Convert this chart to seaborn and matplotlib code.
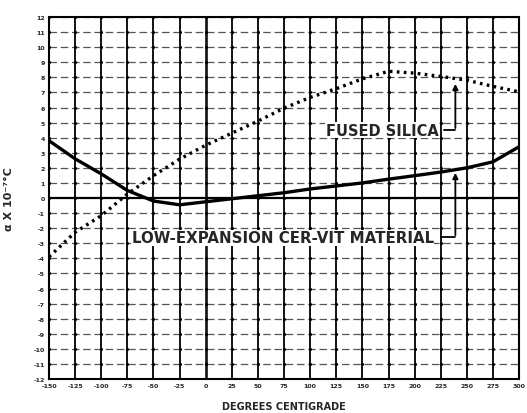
import numpy as np
import pandas as pd
import matplotlib
matplotlib.use("Agg")
import matplotlib.pyplot as plt
import seaborn as sns

temps = [-150, -125, -100, -75, -50, -25, 0, 25, 50, 75, 100, 125, 150, 175, 200, 225, 250, 275, 300]
cervit = [3.8, 2.6, 1.6, 0.5, -0.2, -0.45, -0.25, -0.05, 0.15, 0.35, 0.6, 0.8, 1.0, 1.25, 1.48, 1.72, 2.0, 2.4, 3.4]
silica = [-3.9, -2.27, -1.17, 0.26, 1.48, 2.58, 3.5, 4.3, 5.1, 5.96, 6.67, 7.25, 7.9, 8.4, 8.28, 8.06, 7.81, 7.4, 7.04]
xtick_labels = ["-150", "-125", "-100", "-75", "-50", "-25", "0", "25", "50", "75", "100",
                "125", "150", "175", "200", "225", "250", "275", "300"]
yticks = list(range(-12, 13))
ytick_labels = [str(abs(v)) if v >= 0 else "-" + str(abs(v)) for v in yticks]

sns.set_style("white")
plt.rcParams['font.family'] = ['DejaVu Sans']

fig = plt.figure(figsize=(5.27, 4.14), dpi=100)
ax = fig.add_axes([0.093, 0.0821, 0.892, 0.8744])

df = pd.DataFrame({"temp": temps, "cervit": cervit, "silica": silica})

# grid
for t in temps:
    ax.axvline(t, color="#111111", lw=1.4 if t != 0 else 1.9, zorder=1)
for v in yticks:
    ax.axhline(v, color="#555555" if v != 0 else "black", lw=0.9 if v != 0 else 1.6,
               ls=(0, (6, 3)) if v != 0 else "-", zorder=1)
xx, yy = np.meshgrid(temps, yticks)
ax.scatter(xx.ravel(), yy.ravel(), marker="o", s=5, color="black", lw=0, zorder=1)

sns.lineplot(data=df, x="temp", y="cervit", ax=ax, color="black", lw=2.4, zorder=3)
sns.lineplot(data=df, x="temp", y="silica", ax=ax, color="black", lw=2.4,
             linestyle=(0, (0.8, 1.3)), zorder=3)

ax.set_xlim(-150, 300)
ax.set_ylim(-12, 12)
ax.set_xticks(temps)
ax.set_xticklabels(xtick_labels, fontsize=4.5, fontweight="bold")
ax.set_yticks(yticks)
ax.set_yticklabels(ytick_labels, fontsize=4.5, fontweight="bold")
ax.tick_params(length=0, pad=3)
for s in ax.spines.values():
    s.set_color("black")
    s.set_linewidth(1.5)

ax.set_xlabel("DEGREES CENTIGRADE", fontsize=7, fontweight="bold", labelpad=9)
ax.set_ylabel("\u03b1 X 10\u207b\u2077\u00b0C", fontsize=8, fontweight="bold")
ax.yaxis.set_label_coords(-0.075, 0.5)

# annotations
ax.text(169, 4.5, "FUSED SILICA", ha="center", va="center", fontsize=10.5,
        fontweight="bold", zorder=5,
        bbox=dict(facecolor="white", edgecolor="none", pad=0.5))
ax.plot([228, 239], [4.5, 4.5], color="black", lw=1.3, zorder=5)
ax.annotate("", xy=(239, 7.75), xytext=(239, 4.45),
            arrowprops=dict(arrowstyle="-|>", color="black", lw=1.3, mutation_scale=8), zorder=5)

ax.text(-71, -2.65, "LOW-EXPANSION CER-VIT MATERIAL", ha="left", va="center", fontsize=10.8,
        fontweight="bold", zorder=5,
        bbox=dict(facecolor="white", edgecolor="none", pad=0.5))
ax.plot([225, 239], [-2.6, -2.6], color="black", lw=1.3, zorder=5)
ax.annotate("", xy=(239, 1.85), xytext=(239, -2.65),
            arrowprops=dict(arrowstyle="-|>", color="black", lw=1.3, mutation_scale=8), zorder=5)

fig.savefig("out.png", dpi=100)
